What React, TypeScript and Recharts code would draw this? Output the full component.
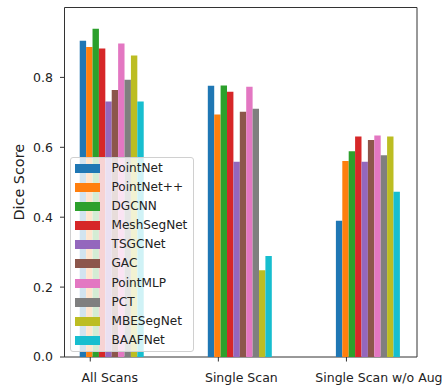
import React from 'react';
import { BarChart, Bar, XAxis, YAxis, ReferenceArea, Legend } from 'recharts';

const categories = ['All Scans', 'Single Scan', 'Single Scan w/o Aug'];
const models = ['PointNet', 'PointNet++', 'DGCNN', 'MeshSegNet', 'TSGCNet', 'GAC', 'PointMLP', 'PCT', 'MBESegNet', 'BAAFNet'];
const colors = ['#1f77b4', '#ff7f0e', '#2ca02c', '#d62728', '#9467bd', '#8c564b', '#e377c2', '#7f7f7f', '#bcbd22', '#17becf'];

const pointNet = [0.905, 0.776, 0.39];
const pointNetPP = [0.887, 0.694, 0.561];
const dgcnn = [0.939, 0.777, 0.589];
const meshSegNet = [0.883, 0.759, 0.631];
const tsgcNet = [0.731, 0.559, 0.559];
const gac = [0.764, 0.702, 0.621];
const pointMLP = [0.897, 0.773, 0.634];
const pct = [0.793, 0.71, 0.577];
const mbeSegNet = [0.863, 0.248, 0.631];
const baafNet = [0.731, 0.289, 0.473];

const yTicks = [0, 0.2, 0.4, 0.6, 0.8];

const seriesValues = [pointNet, pointNetPP, dgcnn, meshSegNet, tsgcNet, gac, pointMLP, pct, mbeSegNet, baafNet];

const data = categories.map((name, i) => {
  const row: any = { name, x: i };
  models.forEach((m, k) => {
    row[m] = seriesValues[k][i];
  });
  return row;
});

const FONT = '"DejaVu Sans", sans-serif';
const X_MIN = -0.369;
const X_MAX = 2.383;
const labelDx = [-2, 1.5, 11];

const XTick = (props: any) => {
  const { x, y, payload } = props;
  const i = payload.value as number;
  return (
    <g>
      <line x1={x - 21.5} x2={x - 21.5} y1={y} y2={y + 4.5} stroke="#333" strokeWidth={1} />
      <text x={x + labelDx[i]} y={y + 24.5} textAnchor="middle" fontFamily={FONT} fontSize={12.5} fill="#222">
        {categories[i]}
      </text>
    </g>
  );
};

const LegendContent = () => (
  <div
    style={{
      boxSizing: 'border-box',
      width: 124,
      height: 195,
      border: '1px solid #d0d0d0',
      borderRadius: 3,
      background: 'rgba(255,255,255,0.8)',
      paddingTop: 0.5,
      fontFamily: FONT,
      fontSize: 12.1,
      color: '#222',
    }}
  >
    {models.map((m, k) => (
      <div key={m} style={{ position: 'relative', height: 19.2 }}>
        <div style={{ position: 'absolute', left: 4, top: 5, width: 25, height: 9, background: colors[k] }} />
        <div style={{ position: 'absolute', left: 40.5, top: 0, lineHeight: '19.2px', whiteSpace: 'nowrap' }}>{m}</div>
      </div>
    ))}
  </div>
);

const YLabel = (props: any) => {
  const vb = props.viewBox || { x: 0, y: 7.5, width: 64.5, height: 349.5 };
  const cx = 24;
  const cy = vb.y + vb.height / 2;
  return (
    <text x={cx} y={cy} transform={`rotate(-90, ${cx}, ${cy})`} textAnchor="middle" fontFamily={FONT} fontSize={14.4} fill="#222">
      Dice Score
    </text>
  );
};

export default function App() {
  return (
    <div style={{ position: 'absolute', left: 0, top: 0, width: 443, height: 385, background: '#fff' }}>
      <BarChart
        width={443}
        height={385}
        data={data}
        margin={{ top: 7.5, right: 26, bottom: 0, left: 0 }}
        barGap={0}
        barCategoryGap={0}
      >
        <XAxis
          type="number"
          dataKey="x"
          domain={[X_MIN, X_MAX]}
          ticks={[0, 1, 2]}
          allowDataOverflow
          interval={0}
          height={28}
          tickSize={0}
          tickMargin={0}
          tickLine={false}
          axisLine={false}
          tick={<XTick />}
        />
        <YAxis
          type="number"
          domain={[0, 1]}
          ticks={yTicks}
          width={64.5}
          tickSize={4.5}
          tickMargin={7}
          tickFormatter={(v: number) => v.toFixed(1)}
          tick={{ fontFamily: FONT, fontSize: 12.5, fill: '#222' }}
          tickLine={{ stroke: '#333', strokeWidth: 1 }}
          axisLine={false}
          label={<YLabel />}
        />
        {models.map((m, k) => (
          <Bar key={m} dataKey={m} fill={colors[k]} barSize={6.4} isAnimationActive={false} />
        ))}
        <ReferenceArea x1={X_MIN} x2={X_MAX} y1={0} y2={1} fill="none" stroke="#333" strokeWidth={1} ifOverflow="visible" />
        <Legend
          layout="vertical"
          align="center"
          verticalAlign="middle"
          content={<LegendContent />}
          wrapperStyle={{ position: 'absolute', left: 70, top: 157, width: 124, height: 195, bottom: 'auto', right: 'auto' }}
        />
      </BarChart>
    </div>
  );
}
